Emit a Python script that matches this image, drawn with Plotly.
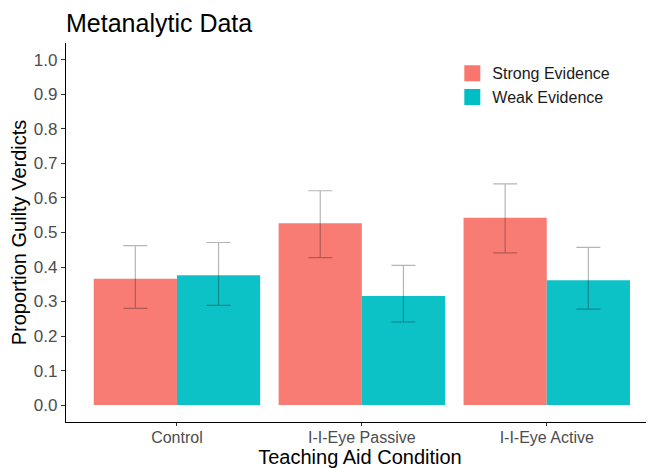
import plotly.graph_objects as go

categories = ["Control", "I-I-Eye Passive", "I-I-Eye Active"]
strong = [0.366, 0.527, 0.543]
strong_hi = [0.462, 0.621, 0.641]
strong_lo = [0.280, 0.427, 0.441]
weak = [0.376, 0.316, 0.362]
weak_hi = [0.471, 0.405, 0.457]
weak_lo = [0.289, 0.241, 0.278]
y_ticks = [0.0, 0.1, 0.2, 0.3, 0.4, 0.5, 0.6, 0.7, 0.8, 0.9, 1.0]

RED = "#F8766D"
TEAL = "#00BFC4"

fig = go.Figure()
for name, vals, hi, lo, col in [
    ("Strong Evidence", strong, strong_hi, strong_lo, RED),
    ("Weak Evidence", weak, weak_hi, weak_lo, TEAL),
]:
    fig.add_trace(go.Bar(
        x=[1, 2, 3], y=vals, name=name, marker_color=col, opacity=0.95,
        marker_line_width=0, showlegend=False, legendgroup=name,
        error_y=dict(type="data", symmetric=False,
                     array=[h - v for h, v in zip(hi, vals)],
                     arrayminus=[v - l for v, l in zip(vals, lo)],
                     color="rgba(0,0,0,0.3)", thickness=1.2, width=12),
    ))
    fig.add_trace(go.Scatter(
        x=[None], y=[None], mode="markers", name=name, legendgroup=name,
        marker=dict(symbol="square", size=22, color=col),
    ))

W, H = 646, 460
fig.update_layout(
    width=W, height=H,
    margin=dict(l=58, r=0, t=35, b=46),
    paper_bgcolor="white", plot_bgcolor="white",
    barmode="group", bargap=0.1, bargroupgap=0,
    font=dict(family="Arial, Liberation Sans, sans-serif", color="#000000"),
    title=dict(text="Metanalytic Data", x=58/W, xanchor="left", xref="container",
               y=1 - 15/H, yanchor="middle", font=dict(size=25, color="black")),
    legend=dict(x=0.657, y=0.965, xanchor="left", yanchor="top",
                font=dict(size=16, color="#1a1a1a"), bgcolor="rgba(0,0,0,0)",
                tracegroupgap=0, itemsizing="trace"),
    xaxis=dict(range=[0.4, 3.58], tickmode="array", tickvals=[1, 2, 3], ticktext=categories,
               showline=True, linecolor="black", linewidth=1.3, showgrid=False, zeroline=False,
               ticks="outside", ticklen=3, tickcolor="#333333", automargin=False,
               ticklabelstandoff=-2,
               tickfont=dict(size=16, color="#4D4D4D"),
               title=dict(text="Teaching Aid Condition", font=dict(size=20, color="black"), standoff=3)),
    yaxis=dict(range=[-0.049, 1.049], tickmode="array", tickvals=y_ticks,
               ticktext=[f"{t:.1f}" for t in y_ticks],
               showline=True, linecolor="black", linewidth=1.3, showgrid=False, zeroline=False,
               ticks="outside", ticklen=4, tickcolor="#333333", automargin=False,
               tickfont=dict(size=17, color="#4D4D4D"),
               title=dict(text="Proportion Guilty Verdicts", font=dict(size=20, color="black"), standoff=3)),
)

fig.write_html("out.html")
